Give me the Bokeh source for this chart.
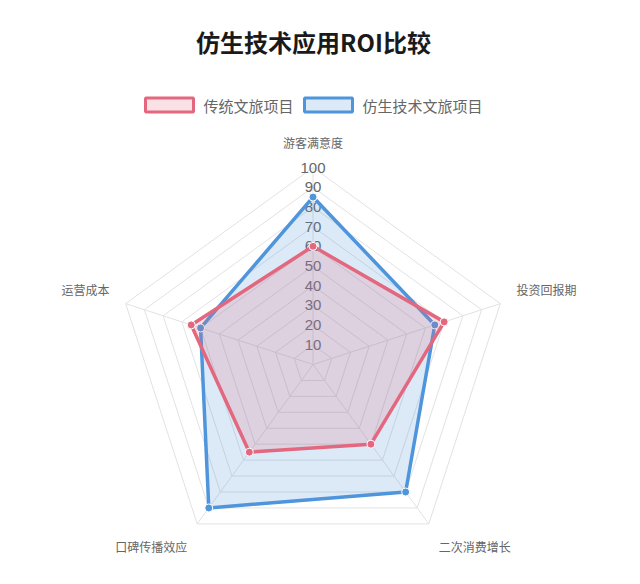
import math
from bokeh.plotting import figure
from bokeh.models import Range1d
from bokeh.core.properties import value
from bokeh.embed import file_html
from bokeh.resources import INLINE

# ---- data ----
categories = ["游客满意度", "投资回报期", "二次消费增长", "口碑传播效应", "运营成本"]
traditional = [60, 70, 50, 55, 65]
bionic = [85, 65, 80, 90, 60]
series_names = ["传统文旅项目", "仿生技术文旅项目"]
tick_values = [10, 20, 30, 40, 50, 60, 70, 80, 90, 100]
title_text = "仿生技术应用ROI比较"

RED = "#e3687f"
BLUE = "#4f95db"
GRID = "#e2e2e2"
FONT = value("Noto Sans CJK SC")

W, H = 624, 568
p = figure(width=W, height=H, output_backend="svg", toolbar_location=None,
           x_range=Range1d(0, W), y_range=Range1d(-H, 0),
           min_border=0, outline_line_color=None)
p.axis.visible = False
p.grid.visible = False
p.background_fill_color = "white"
p.border_fill_color = "white"

cx, cy = 312.5, -364.0
scale = 1.97  # px per unit
n = len(categories)
angles = [math.pi / 2 - 2 * math.pi * i / n for i in range(n)]


def pt(v, a):
    return cx + v * scale * math.cos(a), cy + v * scale * math.sin(a)


# grid rings
for t in tick_values:
    xs = [pt(t, a)[0] for a in angles]
    ys = [pt(t, a)[1] for a in angles]
    p.patch(xs + [xs[0]], ys + [ys[0]], fill_alpha=0, line_color=GRID, line_width=1)
# angle lines
for a in angles:
    x1, y1 = pt(tick_values[-1], a)
    p.line([cx, x1], [cy, y1], line_color=GRID, line_width=1)

# tick labels (under the data)
p.text(x=[cx] * len(tick_values), y=[cy + t * scale for t in tick_values],
       text=[str(t) for t in tick_values], text_align="center", text_baseline="middle",
       text_font_size="15px", text_color="#666666", text_font=value("Liberation Sans"))

# data polygons (first series drawn on top, as in the reference)
for vals, col, fa in [(bionic, BLUE, 0.2), (traditional, RED, 0.2)]:
    xs = [pt(v, a)[0] for v, a in zip(vals, angles)]
    ys = [pt(v, a)[1] for v, a in zip(vals, angles)]
    p.patch(xs + [xs[0]], ys + [ys[0]], fill_color=col, fill_alpha=fa,
            line_color=col, line_width=3.5, line_join="round")
    p.scatter(xs, ys, size=8, fill_color=col, line_color="white", line_width=1)

# point labels
d = 214
aligns = [("center", "bottom"), ("left", "bottom"), ("left", "top"), ("right", "top"), ("right", "bottom")]
for cat, a, (ha, va) in zip(categories, angles, aligns):
    x = cx + d * math.cos(a)
    y = cy + d * math.sin(a)
    p.text(x=[x], y=[y], text=[cat], text_align=ha, text_baseline=va,
           text_font_size="12px", text_color="#666666", text_font=FONT)

# title
p.text(x=[313], y=[-41], text=[title_text], text_align="center", text_baseline="middle",
       text_font_size="24px", text_font_style="bold", text_color="#1a1a1a", text_font=FONT)

# legend
leg = [(169, 203, RED), (328, 362, BLUE)]
for (bx, tx, col), name in zip(leg, series_names):
    p.rect(x=[bx], y=[-104.5], width=48, height=14, fill_color=col, fill_alpha=0.2,
           line_color=col, line_width=3)
    p.text(x=[tx], y=[-104.5], text=[name], text_align="left", text_baseline="middle",
           text_font_size="15px", text_color="#666666", text_font=FONT)

open("out.html", "w").write(file_html(p, INLINE))
